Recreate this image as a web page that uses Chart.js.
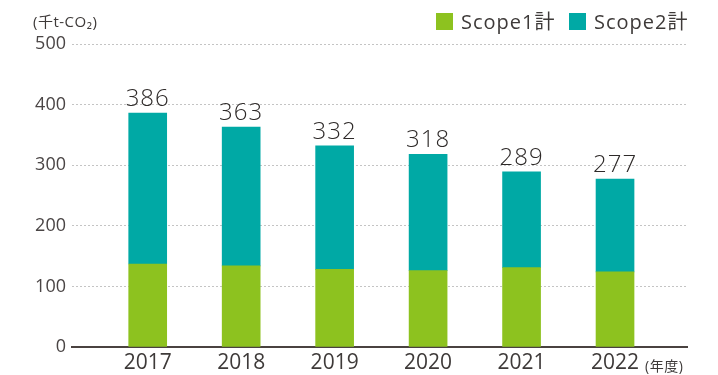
<!DOCTYPE html>
<html>
<head>
<meta charset="utf-8">
<script src="https://cdn.jsdelivr.net/npm/chart.js@4.4.1/dist/chart.umd.min.js"></script>
<style>
  html, body { margin: 0; padding: 0; background: #fff; }
  #wrap { width: 718px; height: 375px; }
</style>
</head>
<body>
<div id="wrap"><canvas id="c" width="718" height="375"></canvas></div>
<script>
// Fiscal years
const years = [2017, 2018, 2019, 2020, 2021, 2022];
// Scope 1 and Scope 2 emissions (thousand t-CO2)
const scope1 = [137, 134, 128, 126, 131, 124];
const scope2 = [249, 229, 204, 192, 158, 153];
// Y axis ticks
const yTicks = [0, 100, 200, 300, 400, 500];

const FONT = "'Open Sans', 'Noto Sans CJK JP', sans-serif";
const TEXT = '#3e3a39';
const GREEN = '#8dc21f';
const TEAL = '#00a9a5';

const totalLabels = {
  id: 'totalLabels',
  afterDatasetsDraw(chart) {
    const ctx = chart.ctx;
    const top = chart.getDatasetMeta(chart.data.datasets.length - 1);
    ctx.save();
    ctx.font = '300 24px ' + FONT;
    ctx.fillStyle = '#2e2a29';
    ctx.textAlign = 'center';
    ctx.textBaseline = 'alphabetic';
    ctx.letterSpacing = '1px';
    top.data.forEach((el, i) => {
      const total = scope1[i] + scope2[i];
      ctx.fillText(String(total), el.x, el.y - 7);
    });
    ctx.restore();
  }
};

const annotations = {
  id: 'annotations',
  afterDraw(chart) {
    const ctx = chart.ctx;
    ctx.save();
    ctx.fillStyle = TEXT;
    ctx.textBaseline = 'alphabetic';
    ctx.textAlign = 'left';
    // unit label
    ctx.font = '15px ' + FONT;
    ctx.letterSpacing = '0.5px';
    ctx.fillText('(千t-CO₂)', 33, 27);
    // year unit
    ctx.font = '14px ' + FONT;
    ctx.fillText('(年度)', 645, 371);
    // legend
    const items = [[GREEN, 'Scope1計', 436], [TEAL, 'Scope2計', 569]];
    ctx.font = '20px ' + FONT;
    ctx.letterSpacing = '1px';
    items.forEach(([col, label, x]) => {
      ctx.fillStyle = col;
      ctx.fillRect(x, 13, 17, 17);
      ctx.fillStyle = TEXT;
      ctx.fillText(label, x + 25, 29);
    });
    ctx.restore();
  }
};

new Chart(document.getElementById('c'), {
  type: 'bar',
  data: {
    datasets: [
      { label: 'Scope1計', data: years.map((y, i) => ({ x: y, y: scope1[i] })), backgroundColor: GREEN, barThickness: 38 },
      { label: 'Scope2計', data: years.map((y, i) => ({ x: y, y: scope2[i] })), backgroundColor: TEAL, barThickness: 38 }
    ]
  },
  options: {
    responsive: false,
    animation: false,
    layout: { padding: { top: 44, right: 31, left: 0, bottom: 0 } },
    plugins: { legend: { display: false }, tooltip: { enabled: false } },
    scales: {
      x: {
        type: 'linear',
        stacked: true,
        offset: false,
        min: 2016.19,
        max: 2022.77,
        afterBuildTicks(scale) { scale.ticks = years.map(v => ({ value: v })); },
        afterFit(scale) { scale.height = 28; },
        grid: { display: false, drawTicks: false, offset: false },
        border: { display: true, color: '#4a4240', width: 2 },
        ticks: {
          font: { family: FONT, size: 21 },
          color: TEXT,
          padding: 3,
          maxRotation: 0,
          callback: v => String(v)
        }
      },
      y: {
        stacked: true,
        min: 0,
        max: 500,
        afterBuildTicks(scale) { scale.ticks = yTicks.map(v => ({ value: v })); },
        afterFit(scale) { scale.width = 72; },
        grid: {
          drawTicks: false,
          color: ctx => ctx.tick && ctx.tick.value === 0 ? 'rgba(0,0,0,0)' : '#c4c4c4',
          lineWidth: 1
        },
        border: { display: false, dash: [2, 2] },
        ticks: {
          font: { family: FONT, size: 18 },
          color: '#4a4545',
          padding: 6
        }
      }
    }
  },
  plugins: [totalLabels, annotations]
});
</script>
</body>
</html>
